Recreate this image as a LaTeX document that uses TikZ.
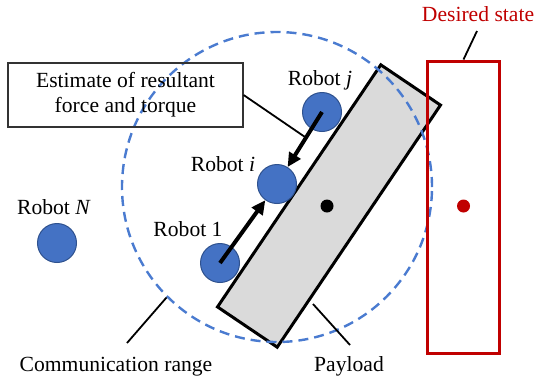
\documentclass[tikz,border=0pt]{standalone}
\usepackage{fontspec}
\setmainfont{Liberation Serif}
\usepackage{tikz}
\usetikzlibrary{positioning, arrows.meta, calc}

\definecolor{robotblue}{HTML}{4472C4}
\definecolor{robotedge}{HTML}{2F528F}
\definecolor{rangeblue}{HTML}{4A7BD0}
\definecolor{goalred}{HTML}{C00000}
\definecolor{payloadgray}{HTML}{DADADA}

\tikzset{
  robot/.style={circle, draw=robotedge, fill=robotblue, line width=0.5pt, minimum size=19.5pt, inner sep=0pt},
  tag/.style={font=\fontsize{10.8}{12.5}\selectfont, inner sep=1pt},
  infobox/.style={rectangle, draw=black!80, line width=0.6pt, minimum width=117.5pt, minimum height=32pt, align=center, font=\fontsize{10.8}{12.5}\selectfont},
  payload/.style={rectangle, draw=black, fill=payloadgray, line width=1.5pt, minimum width=146pt, minimum height=36pt, inner sep=0pt, rotate=56},
  goal/.style={rectangle, draw=goalred, line width=1.5pt, minimum width=36pt, minimum height=146pt, inner sep=0pt},
  dot/.style={circle, fill=#1, minimum size=6.5pt, inner sep=0pt},
  commrange/.style={circle, draw=rangeblue, line width=1.2pt, dash pattern=on 5pt off 3pt, minimum size=155pt, inner sep=0pt},
  arrow/.style={line width=2pt, -{Triangle[length=7pt, width=6.5pt]}},
  leader/.style={line width=0.9pt}
}

\begin{document}
\begin{tikzpicture}[x=0.5pt, y=-0.5pt]
  \useasboundingbox (0,0) rectangle (535,381);

  % Carga, rango de comunicacion y estado deseado
  \node (payload) [payload] at (329,206) {};
  \node (range) [commrange] at (277,187) {};
  \node (goal) [goal] at (463.5,207) {};
  \node (com) [dot=black] at (327,206) {};
  \node (goalcom) [dot=goalred] at (463.5,206) {};

  % Robots
  \node (rj) [robot] at (322,112) {};
  \node (ri) [robot] at (277,184) {};
  \node (r1) [robot] at (220,263) {};
  \node (rN) [robot] at (57,243) {};

  % Etiquetas
  \node (tj) [tag] at (320,80) {Robot \textit{j}};
  \node (ti) [tag] at (223,164) {Robot \textit{i}};
  \node (t1) [tag] at (188,229) {Robot 1};
  \node (tN) [tag] at (54,207) {Robot \textit{N}};
  \node (est) [infobox] at (125.5,95) {Estimate of resultant\\force and torque};
  \node (tdes) [tag, text=goalred] at (478,14) {Desired state};
  \node (tcom) [tag] at (116,367) {Communication range};
  \node (tpay) [tag] at (349,366) {Payload};

  % Extremos libres de las lineas de referencia
  \coordinate (estend) at (305,137);
  \coordinate (desend) at (477,31);
  \coordinate (comend) at (127,343);
  \coordinate (paystart) at (313,304);
  \coordinate (payend) at (350,345);

  % Intercambio de estimaciones
  \draw [arrow] (r1.center) -- (ri);
  \draw [arrow] (rj.center) -- (ri);

  % Lineas de referencia
  \draw [leader] (est.east) -- (estend);
  \draw [leader] (desend) -- (goal.north);
  \draw [leader] (range.225) -- (comend);
  \draw [leader] (paystart) -- (payend);
\end{tikzpicture}
\end{document}
